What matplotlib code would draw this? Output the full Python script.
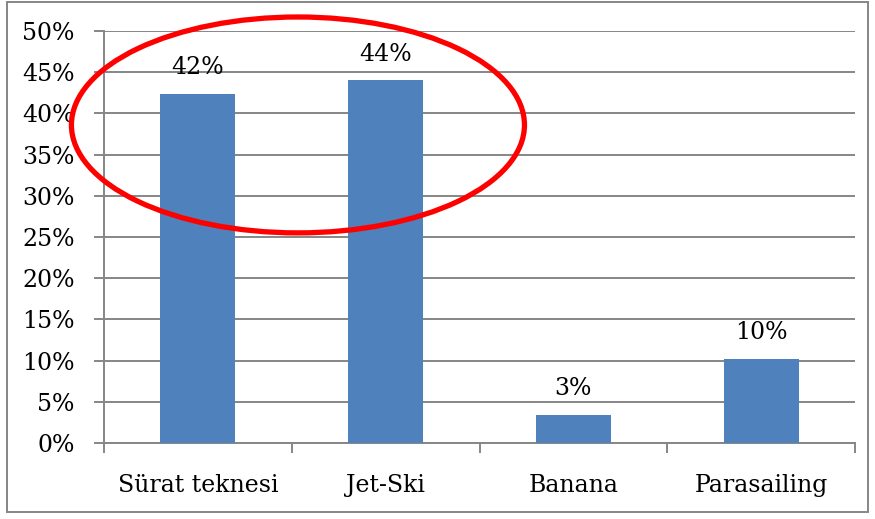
import matplotlib.pyplot as plt
from matplotlib.patches import Ellipse, Rectangle
import numpy as np

plt.rcParams['font.family'] = 'serif'
plt.rcParams['font.serif'] = ['DejaVu Serif', 'Liberation Serif']
plt.rcParams['font.size'] = 17

categories = ['Sürat teknesi', 'Jet-Ski', 'Banana', 'Parasailing']
values = [42.4, 44.0, 3.4, 10.2]
labels = ['42%', '44%', '3%', '10%']
yticks = [0, 5, 10, 15, 20, 25, 30, 35, 40, 45, 50]

fig = plt.figure(figsize=(8.75, 5.19), dpi=100)
ax = fig.add_axes([104 / 875, 1 - 443 / 519, 751 / 875, 412 / 519])

x = np.arange(len(categories))
ax.bar(x, values, width=0.4, color='#4F81BD', zorder=3)
for xi, v, lab in zip(x, values, labels):
    ax.text(xi, v + 2.4, lab, ha='center', va='baseline', fontsize=17)

ax.set_xlim(-0.5, 3.5)
ax.set_ylim(0, 50)
ax.set_yticks(yticks)
ax.set_yticklabels([f'{t}%' for t in yticks])
ax.yaxis.grid(True, color='#868686', linewidth=1.4, zorder=0)
ax.set_axisbelow(True)

ax.set_xticks(np.arange(-0.5, 4, 1))
ax.set_xticklabels([])
ax.set_xticks(x, minor=True)
ax.set_xticklabels(categories, minor=True)
ax.tick_params(axis='x', which='minor', length=0, pad=22)
ax.tick_params(axis='x', which='major', length=7, color='#868686', width=1.4)
ax.tick_params(axis='y', length=7, color='#868686', width=1.4, pad=14)

for s in ['top', 'right']:
    ax.spines[s].set_visible(False)
for s in ['left', 'bottom']:
    ax.spines[s].set_color('#868686')
    ax.spines[s].set_linewidth(1.4)

# red ellipse around the first two bars
ell = Ellipse((0.533, 38.6), 2.413, 26.2, fill=False, edgecolor='#FF0000',
              linewidth=3.8, clip_on=False, zorder=5)
ax.add_patch(ell)

fig.patches.append(Rectangle((7 / 875, 7 / 519), 861 / 875, 510 / 519,
                             transform=fig.transFigure, fill=False,
                             edgecolor='#868686', linewidth=1.4))

fig.savefig('out.png', dpi=100)
